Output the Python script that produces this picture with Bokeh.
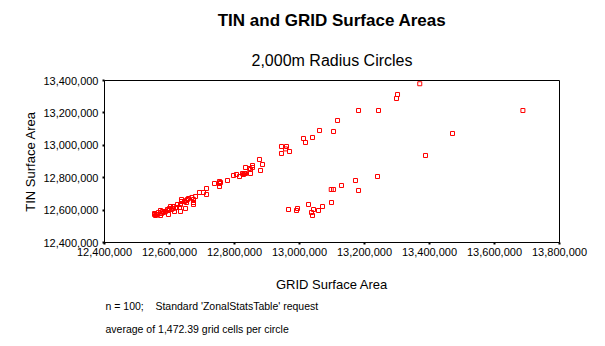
from bokeh.plotting import figure
from bokeh.models import Title, FixedTicker, NumeralTickFormatter, Range1d
from bokeh.embed import file_html
from bokeh.resources import INLINE

grid_area = [
    13370000, 13301600, 13298500, 13181600, 13243100, 13687400, 13117000, 13104700,
    13061600, 13012300, 13040000, 13018500, 13470800, 13387700, 12944600, 12960000,
    12957000, 12969300, 12944600,
    13240000, 13172300, 13129200, 13097600, 13104700, 13181600, 13098500, 13070800,
    13027700, 12966200, 12990800, 12993900, 13043100, 13037000, 13040000, 13058500,
    12876900, 12886200, 12855400, 12855400, 12849200, 12880000, 12833900, 12846200,
    12849200, 12833900, 12824600, 12827700, 12830800, 12815400, 12806200, 12797000,
    12778500, 12753900, 12757000, 12753900, 12753900, 12738500, 12713900, 12692300,
    12704600, 12713900, 12680000, 12658500, 12655400, 12652300, 12636900, 12636900,
    12646200, 12652300, 12673800, 12673800, 12673800, 12624600, 12633800, 12621500,
    12630800, 12649200, 12633800, 12615400, 12612300, 12603100, 12612300, 12606200,
    12600000, 12596900, 12593800, 12596900, 12587700, 12581500, 12572300, 12578500,
    12575400, 12572300, 12566200, 12563100, 12557000, 12553900, 12553900, 12560000,
    12669000,
]
tin_area = [
    13380000, 13313600, 13288900, 13214800, 13214800, 13214800, 13153100, 13085200,
    13091400, 13042000, 13048200, 13017300, 13072900, 12937100, 12992600, 12992600,
    12977800, 12961700, 12949400,
    12807400, 12782700, 12751900, 12727200, 12727200, 12721000, 12646900, 12622200,
    12634600, 12603700, 12597500, 12609900, 12603700, 12585200, 12566700, 12597500,
    12912400, 12881500, 12875300, 12863000, 12850600, 12844500, 12863000, 12856800,
    12825900, 12825900, 12825900, 12819800, 12825900, 12807400, 12819800, 12813600,
    12782700, 12776600, 12770400, 12764200, 12745700, 12764200, 12733300, 12708700,
    12708700, 12696300, 12684000, 12671600, 12665400, 12659300, 12665400, 12653100,
    12653100, 12646900, 12665400, 12646900, 12634600, 12634600, 12634600, 12616100,
    12616100, 12610000, 12591400, 12591400, 12622200, 12622200, 12610000, 12603700,
    12610000, 12597500, 12603700, 12572800, 12591400, 12585200, 12597500, 12591400,
    12579000, 12566700, 12585200, 12572800, 12566700, 12579000, 12572800, 12572800,
    12678000,
]
x_ticks = [12400000, 12600000, 12800000, 13000000, 13200000, 13400000, 13600000, 13800000]
y_ticks = [12400000, 12600000, 12800000, 13000000, 13200000, 13400000]

title_text = "TIN and GRID Surface Areas"
subtitle_text = "2,000m Radius Circles"
x_label = "GRID Surface Area"
y_label = "TIN Surface Area"
note1 = "n = 100;\u00a0\u00a0\u00a0\u00a0Standard 'ZonalStatsTable' request"
note2 = "average of 1,472.39 grid cells per circle"

FONT = "Liberation Sans"

p = figure(width=605, height=346, output_backend="svg", toolbar_location=None, title=None,
           x_range=Range1d(x_ticks[0], x_ticks[-1]), y_range=Range1d(y_ticks[0], y_ticks[-1]),
           min_border_left=104, min_border_right=46, min_border_top=80, min_border_bottom=104)
p.background_fill_color = "white"
p.border_fill_color = "white"
p.outline_line_color = "black"
p.outline_line_width = 1
p.xgrid.visible = False
p.ygrid.visible = False

for ax, ticks in ((p.xaxis, x_ticks), (p.yaxis, y_ticks)):
    ax.ticker = FixedTicker(ticks=ticks)
    ax.formatter = NumeralTickFormatter(format="0,0")
    ax.minor_tick_line_color = None
    ax.major_tick_in = 0
    ax.major_tick_out = 2
    ax.major_tick_line_width = 2
    ax.major_tick_line_color = "black"
    ax.axis_line_color = "black"
    ax.axis_line_width = 1
    ax.major_label_text_font = FONT
    ax.major_label_text_font_size = "11px"
    ax.major_label_text_color = "black"
    ax.axis_label_text_font = FONT
    ax.axis_label_text_font_size = "13px"
    ax.axis_label_text_font_style = "normal"
    ax.axis_label_text_color = "black"
p.xaxis.major_label_standoff = 3
p.yaxis.major_label_standoff = 4
p.xaxis.axis_label = x_label
p.yaxis.axis_label = y_label
p.xaxis.axis_label_standoff = 18
p.yaxis.axis_label_standoff = 2

p.scatter(grid_area, tin_area, marker="square", size=4, fill_color=None,
          line_color="#ff0000", line_width=1)

p.add_layout(Title(text=subtitle_text, align="center", text_font=FONT, text_font_size="16px",
                   text_font_style="normal", text_color="black", standoff=24), "above")
p.add_layout(Title(text=title_text, align="center", text_font=FONT, text_font_size="17px",
                   text_font_style="bold", text_color="black", standoff=16), "above")
p.add_layout(Title(text=note1, align="left", offset=1, text_font=FONT, text_font_size="10.5px",
                   text_font_style="normal", text_color="black", standoff=6), "below")
p.add_layout(Title(text=note2, align="left", offset=1, text_font=FONT, text_font_size="10.5px",
                   text_font_style="normal", text_color="black", standoff=13), "below")

open("out.html", "w").write(file_html(p, INLINE))
